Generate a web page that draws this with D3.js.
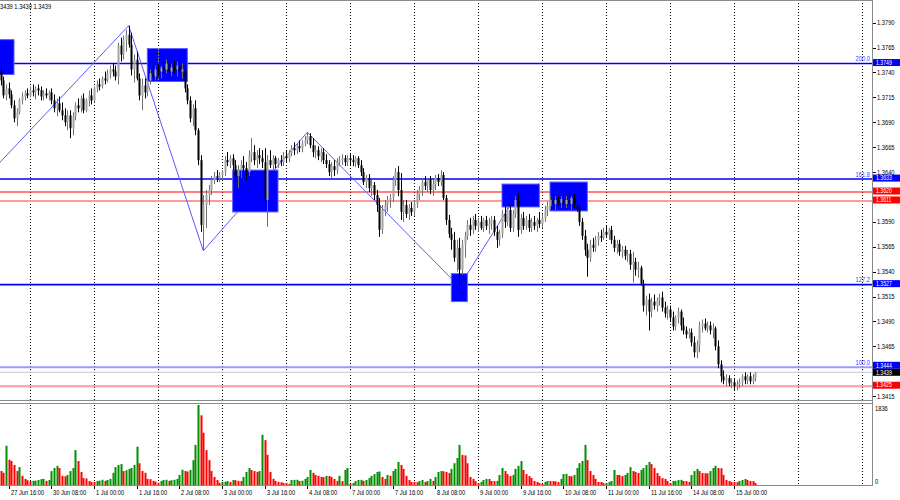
<!DOCTYPE html>
<html><head><meta charset="utf-8">
<script src="https://cdn.jsdelivr.net/npm/d3@7/dist/d3.min.js"></script>
<style>
html,body{margin:0;padding:0;background:#fff;}
svg{display:block;}
text{font-family:"Liberation Sans",Arial,sans-serif;}
</style></head><body>
<svg id="chart" width="900" height="500"></svg>
<script>
// Hourly bars, prices written in pips (value v means 1 + v/10000). Bar 0 = 27 Jun 13:00.
const opens = [
3741,3732,3717,3724,3718,3707,3694,3700,3712,3716,3719,
3717,3722,3720,3724,3722,3716,3719,3717,3720,3712,3704,3709,3702,3697,3690,3697,3684,3696,3707,3704,3714,3702,3712,3717,
3712,3724,3728,3726,3734,3732,3739,3743,3741,3736,3767,3758,3773,3778,3768,3743,3753,3734,3717,3727,3720,3732,3739,3736,
3743,3741,3745,3743,3749,3741,3745,3743,3747,3741,3743,3724,3712,3694,3704,3682,3652,3587,3607,3617,3622,3632,3636,3634,
3637,3640,3652,3650,3654,3647,3636,3642,3647,3644,3640,3657,3660,3652,3657,3654,3650,3612,3652,3647,3654,3648,3652,3650,
3656,3654,3659,3664,3662,3666,3664,3669,3672,3676,3667,3660,3662,3656,3660,3652,3648,3640,3646,3642,3650,3652,3654,3650,
3654,3652,3650,3654,3647,3640,3630,3634,3624,3627,3617,3607,3582,3602,3607,3612,3614,3632,3640,3622,3600,3607,3598,3604,
3600,3608,3618,3622,3630,3626,3632,3622,3628,3634,3630,3637,3614,3592,3578,3572,3554,3564,3542,3567,3576,3587,3582,3592,
3586,3590,3584,3592,3586,3588,3592,3580,3572,3578,3598,3590,3602,3584,3598,3612,3582,3594,3586,3592,3584,3590,3586,3592,
3588,3594,3602,3606,3612,3608,3612,3609,3613,3608,3612,3608,3614,3607,3603,3590,3576,3562,3554,3567,3564,3572,3576,3574,
3580,3577,3582,3572,3564,3568,3560,3562,3556,3558,3547,3550,3542,3544,3528,3506,3512,3500,3510,3506,3512,3514,3504,3498,
3502,3494,3485,3494,3500,3486,3481,3477,3479,3469,3459,3466,3485,3488,3483,3486,3481,3483,3465,3447,3435,3431,3433,3428,
3429,3425,3427,3429,3435,3431,3435,3430,3433];
const highs = [
3747,3736,3728,3730,3722,3712,3704,3714,3720,3722,3724,
3726,3728,3726,3728,3726,3722,3724,3722,3724,3718,3714,3716,3710,3704,3702,3702,3700,3710,3714,3717,3719,3714,3722,3724,
3726,3732,3734,3736,3741,3743,3747,3749,3747,3770,3775,3777,3783,3787,3780,3758,3761,3739,3734,3734,3736,3743,3747,3747,
3749,3747,3751,3753,3753,3749,3751,3751,3753,3749,3747,3728,3716,3708,3712,3684,3657,3617,3622,3627,3636,3640,3642,3640,
3642,3656,3660,3657,3658,3652,3647,3652,3656,3650,3662,3674,3667,3662,3664,3662,3664,3657,3662,3657,3656,3654,3657,3660,
3662,3662,3667,3670,3669,3672,3672,3676,3680,3679,3674,3667,3666,3664,3664,3658,3652,3650,3652,3654,3656,3658,3657,3657,
3658,3657,3656,3656,3652,3644,3637,3638,3632,3630,3622,3614,3607,3612,3616,3618,3636,3644,3646,3639,3612,3612,3608,3610,
3612,3622,3626,3634,3636,3634,3636,3632,3637,3638,3642,3640,3617,3597,3584,3580,3572,3574,3572,3580,3592,3594,3596,3598,
3594,3596,3594,3596,3594,3596,3596,3586,3582,3602,3606,3606,3607,3602,3616,3619,3598,3600,3596,3598,3594,3596,3594,3600,
3598,3606,3610,3616,3618,3616,3617,3616,3619,3616,3620,3616,3618,3612,3606,3594,3582,3568,3572,3574,3576,3580,3582,3584,
3586,3584,3586,3576,3572,3572,3566,3566,3562,3562,3560,3554,3550,3546,3532,3516,3518,3514,3517,3514,3518,3520,3510,3506,
3506,3500,3496,3504,3502,3494,3485,3483,3483,3475,3471,3490,3492,3493,3490,3490,3488,3485,3471,3451,3441,3437,3436,3433,
3433,3431,3433,3437,3439,3437,3439,3437,3439];
const lows = [
3727,3714,3712,3714,3704,3690,3686,3698,3708,3712,3714,
3715,3716,3713,3717,3712,3712,3714,3712,3708,3700,3696,3700,3692,3686,3682,3674,3677,3692,3700,3700,3699,3700,3706,3708,
3710,3720,3722,3724,3728,3730,3734,3736,3732,3728,3751,3753,3761,3765,3737,3730,3732,3712,3702,3714,3716,3728,3732,3732,
3736,3734,3739,3739,3736,3736,3739,3736,3739,3734,3720,3708,3690,3686,3677,3647,3580,3561,3584,3607,3617,3628,3630,3630,
3632,3636,3646,3644,3642,3630,3624,3634,3640,3632,3636,3650,3647,3644,3648,3644,3602,3585,3644,3642,3644,3644,3646,3646,
3650,3650,3656,3657,3658,3660,3660,3666,3668,3664,3655,3654,3652,3650,3648,3644,3636,3634,3636,3638,3646,3647,3646,3646,
3647,3646,3645,3644,3636,3627,3624,3620,3616,3612,3600,3575,3578,3596,3600,3604,3610,3626,3616,3592,3590,3594,3592,3596,
3596,3604,3612,3616,3622,3620,3618,3616,3622,3626,3626,3612,3587,3574,3562,3550,3540,3525,3537,3554,3572,3576,3578,3582,
3580,3582,3580,3582,3578,3582,3576,3564,3566,3574,3584,3586,3580,3580,3594,3575,3578,3582,3582,3580,3580,3582,3580,3584,
3584,3590,3596,3602,3604,3602,3606,3604,3606,3604,3606,3602,3604,3600,3586,3572,3556,3535,3550,3560,3560,3566,3570,3572,
3574,3572,3568,3560,3558,3556,3554,3552,3550,3542,3529,3536,3534,3526,3500,3496,3481,3494,3502,3500,3506,3500,3494,3492,
3490,3481,3481,3488,3481,3477,3473,3473,3465,3454,3453,3459,3479,3481,3479,3477,3473,3461,3443,3429,3427,3425,3425,3423,
3421,3421,3423,3425,3427,3427,3427,3427,3430];
const closes = [
3732,3717,3724,3718,3707,3694,3700,3712,3716,3719,3717,
3722,3720,3724,3722,3716,3719,3717,3720,3712,3704,3709,3702,3697,3690,3697,3684,3696,3707,3704,3714,3702,3712,3717,3712,
3724,3728,3726,3734,3732,3739,3743,3741,3736,3767,3758,3773,3778,3768,3743,3753,3734,3717,3727,3720,3732,3739,3736,3743,
3741,3745,3743,3749,3741,3745,3743,3747,3741,3743,3724,3712,3694,3704,3682,3652,3587,3607,3617,3622,3632,3636,3634,3637,
3640,3652,3650,3654,3647,3636,3642,3647,3644,3640,3657,3660,3652,3657,3654,3650,3612,3652,3647,3654,3648,3652,3650,3656,
3654,3659,3664,3662,3666,3664,3669,3672,3676,3667,3660,3662,3656,3660,3652,3648,3640,3646,3642,3650,3652,3654,3650,3654,
3652,3650,3654,3647,3640,3630,3634,3624,3627,3617,3607,3582,3602,3607,3612,3614,3632,3640,3622,3600,3607,3598,3604,3600,
3608,3618,3622,3630,3626,3632,3622,3628,3634,3630,3637,3614,3592,3578,3572,3554,3564,3542,3567,3576,3587,3582,3592,3586,
3590,3584,3592,3586,3588,3592,3580,3572,3578,3598,3590,3602,3584,3598,3612,3582,3594,3586,3592,3584,3590,3586,3592,3588,
3594,3602,3606,3612,3608,3612,3609,3613,3608,3612,3608,3614,3607,3603,3590,3576,3562,3554,3567,3564,3572,3576,3574,3580,
3577,3582,3572,3564,3568,3560,3562,3556,3558,3547,3550,3542,3544,3528,3506,3512,3500,3510,3506,3512,3514,3504,3498,3502,
3494,3485,3494,3500,3486,3481,3477,3479,3469,3459,3466,3485,3488,3483,3486,3481,3483,3465,3447,3435,3431,3433,3428,3429,
3425,3427,3429,3435,3431,3435,3430,3433,3439];
const volumes = [
320,280,900,580,550,460,320,410,210,140,110,
90,95,100,115,135,140,95,115,320,390,440,390,210,200,230,320,390,800,550,300,160,150,90,70,
70,90,100,120,95,115,140,280,410,460,480,320,340,370,390,460,880,500,320,280,140,135,95,80,
50,90,115,120,95,110,120,140,230,350,320,310,345,570,920,1836,1600,1200,800,570,320,185,115,50,
70,75,90,70,115,110,95,90,185,300,390,345,320,300,320,1150,1030,690,300,140,95,70,65,45,
45,25,115,118,120,90,100,140,185,345,280,230,210,185,180,210,205,185,140,95,210,90,345,390,
25,45,90,115,118,95,115,160,210,250,300,310,185,140,230,210,320,370,530,460,370,210,115,70,
70,65,90,115,70,90,140,95,185,300,320,315,300,275,370,500,620,920,690,680,500,185,140,90,
45,70,115,140,138,92,90,95,230,390,320,250,205,230,370,440,550,345,250,205,160,92,70,45,
25,70,92,90,88,86,70,140,250,255,205,200,230,390,500,550,920,570,320,230,140,70,70,45,
46,70,92,345,230,228,205,230,275,410,320,300,275,345,390,460,530,480,390,275,205,160,140,92,
45,92,95,115,118,92,90,70,230,320,370,320,275,270,268,320,390,440,390,385,230,115,92,70,
68,66,92,115,138,115,92,90,45];

const timeLabels = ["27 Jun 16:00","30 Jun 08:00","1 Jul 00:00","1 Jul 16:00","2 Jul 08:00","3 Jul 00:00","3 Jul 16:00","4 Jul 08:00","7 Jul 00:00","7 Jul 16:00","8 Jul 08:00","9 Jul 00:00","9 Jul 16:00","10 Jul 08:00","11 Jul 00:00","11 Jul 16:00","14 Jul 08:00","15 Jul 00:00"];
const firstLabelBar = 3, labelStep = 16, firstDayBar = 11, dayStep = 24;
const priceTicks = [1.3790,1.3765,1.3740,1.3715,1.3690,1.3665,1.3640,1.3590,1.3565,1.3540,1.3515,1.3490,1.3465,1.3415];
const volumeTicks = [1836, 0];

const levelPrices = [1.3749,1.3633,1.3620,1.3611,1.3527,1.3444,1.3439,1.3425];
const levelNames  = ["200.0","161.8","","","127.2","100.0","",""];

const boxStart = [-5,55,87,188,206,169];
const boxEnd   = [5,70,104,202,220,175];
const boxHigh  = [1.3773,1.3764,1.3642,1.3628,1.3630,1.3538];
const boxLow   = [1.3738,1.3731,1.3600,1.3605,1.3601,1.3510];

const zigzagBars   = [-3,48,76,115,172,194];
const zigzagPrices = [1.3642,1.3787,1.3561,1.3680,1.3525,1.3619];

const headerText = "3439 1.3430 1.3439";

// ---------- styles ----------
const levelStyle = [
 {stroke:"#0000ff", w:1.6, tag:"#0000ff"},
 {stroke:"#0000ff", w:1.6, tag:"#0000ff"},
 {stroke:"#ff0000", w:1.2, tag:"#ff0000"},
 {stroke:"#ff9a9a", w:2,   tag:"#ff0000"},
 {stroke:"#0000ff", w:1.6, tag:"#0000ff"},
 {stroke:"#9a9aff", w:2,   tag:"#0000ff"},
 {stroke:"#c8c8c8", w:1,   tag:"#000000"},
 {stroke:"#ff9a9a", w:2,   tag:"#ff0000"}
];
const FONT = 7, SQUEEZE = 0.82, TAG_H = 7;
const squeeze = sel => sel.each(function(){
  const w = this.getComputedTextLength();
  if (w > 0) { this.setAttribute('textLength', (w * SQUEEZE).toFixed(2)); this.setAttribute('lengthAdjust','spacingAndGlyphs'); }
});

const toPrice = v => 1 + v / 10000;
const svg = d3.select('#chart');
const plotRight = 872, mainTop = 1, mainBottom = 400, volTop = 404, volBottom = 485;

const x  = d3.scaleLinear().domain([firstLabelBar, firstLabelBar + 272]).range([8.667, 734]);
const y  = d3.scaleLinear().domain([1.3415, 1.3790]).range([396.2, 22.7]);
const yv = d3.scaleLinear().domain([0, 1836]).range([485, 405]);

svg.append('rect').attr('width',900).attr('height',500).attr('fill','#fff');
const defs = svg.append('defs');
defs.append('clipPath').attr('id','clipMain').append('rect')
  .attr('x',0).attr('y',mainTop).attr('width',plotRight).attr('height',mainBottom-mainTop);
defs.append('clipPath').attr('id','clipVol').append('rect')
  .attr('x',0).attr('y',volTop).attr('width',plotRight).attr('height',volBottom-volTop);

const main = svg.append('g').attr('clip-path','url(#clipMain)');
const vol  = svg.append('g').attr('clip-path','url(#clipVol)');

const px = i => Math.round(x(i));
const gridBars = d3.range(firstDayBar, 400, dayStep).filter(i => x(i) < plotRight - 2);

// vertical dotted grid
[main, vol].forEach(g => g.append('g').selectAll('line').data(gridBars).join('line')
  .attr('x1', d => px(d) + 0.5).attr('x2', d => px(d) + 0.5)
  .attr('y1', 0).attr('y2', 500)
  .attr('stroke', '#000').attr('stroke-width', 1).attr('stroke-dasharray', '1,2'));

// horizontal levels
main.append('g').selectAll('line').data(levelPrices).join('line')
  .attr('x1', 0).attr('x2', plotRight)
  .attr('y1', d => y(d)).attr('y2', d => y(d))
  .attr('stroke', (d,i) => levelStyle[i].stroke).attr('stroke-width', (d,i) => levelStyle[i].w);

// zigzag
const zz = zigzagBars.map((b,i) => [x(b), y(zigzagPrices[i])]);
main.append('path').attr('d', d3.line()(zz)).attr('fill','none')
  .attr('stroke','#5a5aff').attr('stroke-width',1);

// boxes
const boxes = boxStart.map((s,i) => ({s, e: boxEnd[i], hi: boxHigh[i], lo: boxLow[i]}));
main.append('g').selectAll('rect').data(boxes).join('rect')
  .attr('x', d => x(d.s)).attr('width', d => x(d.e) - x(d.s))
  .attr('y', d => y(d.hi)).attr('height', d => y(d.lo) - y(d.hi))
  .attr('fill', '#0000ff').attr('stroke', '#5c5cff').attr('stroke-width', 1);
const crossings = [];
boxes.forEach(b => gridBars.forEach(g => { if (g > b.s && g < b.e) crossings.push({g, b}); }));
main.append('g').selectAll('line').data(crossings).join('line')
  .attr('x1', d => px(d.g) + 0.5).attr('x2', d => px(d.g) + 0.5)
  .attr('y1', d => y(d.b.hi)).attr('y2', d => y(d.b.lo))
  .attr('stroke', '#ffff00').attr('stroke-dasharray', '1,2');

// candles
const bars = closes.map((c,i) => ({i, o: toPrice(opens[i]), h: toPrice(highs[i]), l: toPrice(lows[i]), c: toPrice(c), v: volumes[i]}));
const cg = main.append('g');
cg.selectAll('line').data(bars).join('line')
  .attr('x1', d => px(d.i) + 0.5).attr('x2', d => px(d.i) + 0.5)
  .attr('y1', d => y(d.h)).attr('y2', d => y(d.l))
  .attr('stroke', d => d.c >= d.o ? '#707070' : '#000').attr('stroke-width', 1);
cg.selectAll('rect').data(bars).join('rect')
  .attr('x', d => px(d.i) - 0.5).attr('width', 2)
  .attr('y', d => Math.min(y(d.o), y(d.c)))
  .attr('height', d => Math.max(1, Math.abs(y(d.o) - y(d.c))))
  .attr('fill', d => d.c >= d.o ? '#a4a4a4' : '#000');

// fib labels
main.append('g').selectAll('text').data(levelPrices.map((p,i) => ({p, t: levelNames[i]})).filter(d => d.t))
  .join('text').attr('x', plotRight - 2).attr('y', d => y(d.p) - 2.5)
  .attr('text-anchor', 'end').attr('font-size', FONT).attr('fill', '#3b3bff').text(d => d.t).call(squeeze);

// volumes
vol.append('g').selectAll('rect').data(bars).join('rect')
  .attr('x', d => px(d.i) - 0.5).attr('width', 2)
  .attr('y', d => yv(d.v)).attr('height', d => yv(0) - yv(d.v))
  .attr('fill', (d,i) => (i > 0 && d.v > volumes[i-1]) ? '#009000' : '#ff0000');

// frames
const frame = svg.append('g').attr('stroke', '#8a8a8a').attr('stroke-width', 1);
frame.append('line').attr('x1',0).attr('x2',plotRight).attr('y1',0.5).attr('y2',0.5);
frame.append('line').attr('x1',0).attr('x2',plotRight).attr('y1',mainBottom + 0.5).attr('y2',mainBottom + 0.5);
frame.append('line').attr('x1',0).attr('x2',plotRight).attr('y1',volTop - 0.5).attr('y2',volTop - 0.5);
frame.append('line').attr('x1',0).attr('x2',plotRight + 1).attr('y1',volBottom + 0.5).attr('y2',volBottom + 0.5);
frame.append('line').attr('x1',plotRight + 0.5).attr('x2',plotRight + 0.5).attr('y1',0).attr('y2',volBottom + 1);

// price axis
const pa = svg.append('g');
pa.selectAll('line').data(priceTicks).join('line')
  .attr('x1', plotRight + 1).attr('x2', plotRight + 4)
  .attr('y1', d => Math.round(y(d)) + 0.5).attr('y2', d => Math.round(y(d)) + 0.5).attr('stroke', '#000');
pa.selectAll('text').data(priceTicks).join('text')
  .attr('x', plotRight + 5).attr('y', d => y(d) + 2.5).attr('font-size', FONT).attr('fill', '#000')
  .text(d => d.toFixed(4)).call(squeeze);

// level tags, spread apart so neighbours do not cover each other
const tagPos = levelPrices.map((p,i) => ({p, i, cy: y(p) - 1})).sort((a,b) => a.cy - b.cy);
for (let k = 1; k < tagPos.length; k++) {
  const gap = tagPos[k].cy - tagPos[k-1].cy;
  if (gap < TAG_H) { const push = (TAG_H - gap) / 2; tagPos[k-1].cy -= push; tagPos[k].cy += push; }
}
const tags = svg.append('g').selectAll('g').data(tagPos).join('g');
tags.append('rect').attr('x', plotRight + 1).attr('width', 27)
  .attr('y', d => d.cy - TAG_H / 2).attr('height', TAG_H).attr('fill', d => levelStyle[d.i].tag);
tags.append('text').attr('x', plotRight + 4).attr('y', d => d.cy + 2.2)
  .attr('font-size', 6.3).attr('fill', '#fff').text(d => d.p.toFixed(4)).call(squeeze);

// volume axis
svg.append('g').selectAll('text').data(volumeTicks).join('text')
  .attr('x', plotRight + 3).attr('y', d => yv(d) + (d === 0 ? -1 : 5.5))
  .attr('font-size', FONT).attr('fill', '#000').text(d => d).call(squeeze);

// time axis
const ta = svg.append('g');
const tl = timeLabels.map((t,j) => ({t, b: firstLabelBar + j * labelStep}));
ta.selectAll('line').data(tl).join('line')
  .attr('x1', d => px(d.b) + 0.5).attr('x2', d => px(d.b) + 0.5)
  .attr('y1', volBottom + 1).attr('y2', volBottom + 4).attr('stroke', '#000');
ta.selectAll('text').data(tl).join('text')
  .attr('x', d => px(d.b) + 2).attr('y', 494.5).attr('font-size', FONT).attr('fill', '#000').text(d => d.t).call(squeeze);

// header
svg.append('text').attr('x', 0).attr('y', 9).attr('font-size', FONT).attr('fill', '#000').text(headerText).call(squeeze);
</script>
</body></html>
